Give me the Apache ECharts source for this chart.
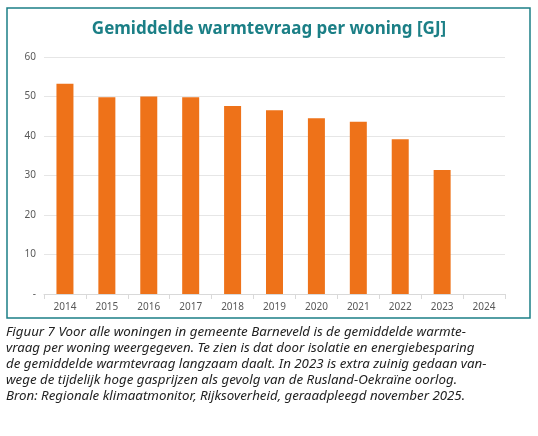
<!DOCTYPE html><html><head><meta charset="utf-8"><script src="https://cdn.jsdelivr.net/npm/echarts@6/dist/echarts.min.js"></script>
<style>body{margin:0;background:#fff}#c{width:538px;height:436px}</style></head><body><div id="c"></div><script>
const categories=['2014','2015','2016','2017','2018','2019','2020','2021','2022','2023','2024'];
const values=[53.2,49.8,50.0,49.8,47.6,46.5,44.5,43.6,39.2,31.4,null];
const title='Gemiddelde warmtevraag per woning [GJ]';
const caption=['Figuur 7 Voor alle woningen in gemeente Barneveld is de gemiddelde warmte-','vraag per woning weergegeven. Te zien is dat door isolatie en energiebesparing','de gemiddelde warmtevraag langzaam daalt. In 2023 is extra zuinig gedaan van-','wege de tijdelijk hoge gasprijzen als gevolg van de Rusland-Oekraïne oorlog.','Bron: Regionale klimaatmonitor, Rijksoverheid, geraadpleegd november 2025.'];
const ch=echarts.init(document.getElementById('c'),null,{renderer:'canvas'});
ch.setOption({
animation:false,
title:{text:title,left:'center',top:16,textStyle:{color:'#1b7f86',fontSize:17,fontWeight:'bold',fontFamily:'Noto Sans'}},
grid:{left:44,right:33,top:57,bottom:142},
xAxis:{type:'category',data:categories,axisLine:{lineStyle:{color:'#d9d9d9'}},axisTick:{show:true,lineStyle:{color:'#d9d9d9'}},axisLabel:{color:'#595959',fontSize:10,fontFamily:'Noto Sans'}},
yAxis:{type:'value',min:0,max:60,interval:10,axisLabel:{color:'#595959',fontSize:10,fontFamily:'Noto Sans',formatter:v=>v===0?'-':v},splitLine:{lineStyle:{color:'#e6e6e6'}}},
series:[{type:'bar',data:values,barWidth:17,itemStyle:{color:'#ee7219'}}],
graphic:[{type:'rect',shape:{x:7,y:8,width:523,height:310},style:{fill:'none',stroke:'#1b7f86',lineWidth:1.5}},
{type:'text',left:6,top:324,style:{text:caption.join('\n'),font:'italic 13.3px "Noto Sans"',lineHeight:16,fill:'#222'}}]
});
</script></body></html>
